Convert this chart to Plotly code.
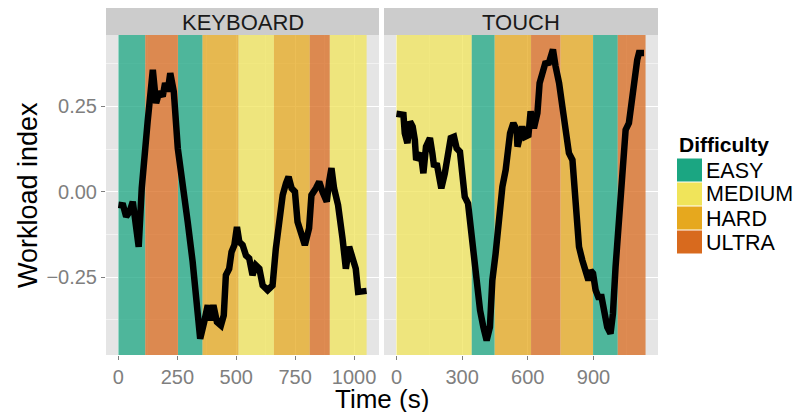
import plotly.graph_objects as go

# ---------------- data ----------------
keyboard_time = [0, 20, 33, 47, 61, 71, 86, 99, 110, 124, 146, 160, 174, 188, 198, 209, 220, 235,
                 252, 273, 294, 315, 329, 339, 347, 364, 379, 390, 403, 418, 435, 447, 456, 470,
                 480, 492, 503, 513, 527, 541, 555, 569, 583, 598, 612, 633, 654, 668, 682, 697,
                 711, 722, 735, 749, 760, 777, 791, 809, 819, 838, 852, 866, 884, 894, 904, 915,
                 932, 951, 965, 979, 993, 1007, 1017, 1031, 1053]
keyboard_workload = [-0.038, -0.040, -0.073, -0.059, -0.029, -0.088, -0.161, 0.010, 0.078, 0.205,
                     0.357, 0.259, 0.293, 0.279, 0.318, 0.293, 0.347, 0.293, 0.127, 0.029, -0.088,
                     -0.205, -0.303, -0.400, -0.430, -0.381, -0.332, -0.376, -0.332, -0.381, -0.391,
                     -0.362, -0.244, -0.225, -0.176, -0.156, -0.103, -0.147, -0.156, -0.186, -0.195,
                     -0.244, -0.215, -0.225, -0.274, -0.288, -0.274, -0.166, -0.078, -0.010, 0.025,
                     0.044, 0.010, 0.000, -0.088, -0.127, -0.156, -0.107, -0.010, 0.010, 0.029,
                     0.000, -0.029, 0.029, 0.069, 0.010, -0.039, -0.137, -0.225, -0.161, -0.195,
                     -0.225, -0.293, -0.290, -0.290]

touch_time = [0, 32, 38, 50, 62, 74, 84, 90, 111, 123, 135, 153, 164, 172, 184, 195, 205, 221, 233,
              248, 263, 275, 290, 306, 312, 327, 339, 354, 370, 382, 397, 412, 427, 438, 453, 469,
              484, 499, 507, 519, 534, 549, 553, 560, 575, 587, 603, 613, 628, 644, 654, 667, 682,
              694, 705, 715, 727, 743, 758, 773, 788, 804, 811, 822, 834, 849, 864, 877, 887, 898,
              910, 922, 937, 948, 963, 978, 989, 1001, 1014, 1024, 1035, 1047, 1062, 1074, 1085,
              1100, 1108, 1131]
touch_workload = [0.228, 0.225, 0.171, 0.142, 0.205, 0.191, 0.152, 0.093, 0.113, 0.054, 0.132,
                  0.157, 0.113, 0.073, 0.083, 0.044, 0.010, 0.054, 0.103, 0.157, 0.161, 0.127,
                  0.117, 0.034, -0.015, -0.034, -0.112, -0.200, -0.288, -0.347, -0.396, -0.435,
                  -0.396, -0.259, -0.181, -0.063, 0.015, 0.064, 0.132, 0.171, 0.201, 0.181, 0.132,
                  0.152, 0.191, 0.161, 0.166, 0.235, 0.186, 0.230, 0.318, 0.347, 0.381, 0.372,
                  0.406, 0.416, 0.367, 0.318, 0.249, 0.171, 0.113, 0.093, 0.025, -0.063, -0.161,
                  -0.200, -0.230, -0.259, -0.230, -0.239, -0.288, -0.308, -0.308, -0.357, -0.396,
                  -0.415, -0.357, -0.220, -0.103, 0.005, 0.103, 0.181, 0.201, 0.269, 0.328, 0.386,
                  0.406, 0.406]

keyboard_band_start = [0, 114, 253, 357, 510, 660, 812, 897]
keyboard_band_end = [114, 253, 357, 510, 660, 812, 897, 1053]
keyboard_band_level = ["EASY", "ULTRA", "EASY", "HARD", "MEDIUM", "HARD", "ULTRA", "MEDIUM"]

touch_band_start = [0, 344, 449, 615, 750, 898, 1011]
touch_band_end = [344, 449, 615, 750, 898, 1011, 1138]
touch_band_level = ["MEDIUM", "EASY", "HARD", "ULTRA", "HARD", "EASY", "ULTRA"]

difficulty_levels = ["EASY", "MEDIUM", "HARD", "ULTRA"]
difficulty_colors = ["#1BA682", "#F0E45A", "#E6A81E", "#D86A1E"]

panel_names = ["KEYBOARD", "TOUCH"]
keyboard_xticks = [0, 250, 500, 750, 1000]
touch_xticks = [0, 300, 600, 900]
y_ticks = [-0.25, 0.0, 0.25]
y_ticklabels = ["\u22120.25", "0.00", "0.25"]

# ---------------- helpers ----------------
W, H = 795, 412
FONT = "Liberation Sans, Arial, Helvetica, sans-serif"
TICK_GREY = "#7F7F7F"
color_of = dict(zip(difficulty_levels, difficulty_colors))


def px_x(p):
    return p / W


def px_y(p):
    return 1 - p / H


def expand(lo, hi, f=0.05):
    d = (hi - lo) * f
    return [lo - d, hi + d]


kb_range = expand(min(keyboard_time + keyboard_band_start), max(keyboard_time + keyboard_band_end))
tc_range = expand(min(touch_time + touch_band_start), max(touch_time + touch_band_end))
y_range = expand(min(keyboard_workload + touch_workload), max(keyboard_workload + touch_workload))


def minor_between(ticks, rng):
    step = ticks[1] - ticks[0]
    vals = []
    v = ticks[0] - step / 2
    while v < rng[1]:
        if v > rng[0]:
            vals.append(v)
        v += step
    return vals


fig = go.Figure()
fig.add_trace(go.Scatter(x=keyboard_time, y=keyboard_workload, xaxis="x", yaxis="y",
                         mode="lines", line=dict(color="black", width=6.5),
                         showlegend=False, hoverinfo="skip"))
fig.add_trace(go.Scatter(x=touch_time, y=touch_workload, xaxis="x2", yaxis="y2",
                         mode="lines", line=dict(color="black", width=6.5),
                         showlegend=False, hoverinfo="skip"))

shapes = []
# difficulty bands span the whole y range of each panel
for xref, yref, s_list, e_list, lv_list in [
    ("x", "y", keyboard_band_start, keyboard_band_end, keyboard_band_level),
    ("x2", "y2", touch_band_start, touch_band_end, touch_band_level),
]:
    for s, e, lv in zip(s_list, e_list, lv_list):
        shapes.append(dict(type="rect", xref=xref, yref=yref, x0=s, x1=e,
                           y0=y_range[0], y1=y_range[1],
                           fillcolor=color_of[lv], opacity=0.75, line=dict(width=0),
                           layer="between"))

# facet strips
strip_top, strip_bot = 8, 35
annotations = []
strip_bounds = [(106, 379), (384, 658)]
for (l, r), name in zip(strip_bounds, panel_names):
    shapes.append(dict(type="rect", xref="paper", yref="paper", x0=px_x(l), x1=px_x(r),
                       y0=px_y(strip_bot), y1=px_y(strip_top), fillcolor="#CCCCCC",
                       line=dict(width=0)))
    annotations.append(dict(text=name, xref="paper", yref="paper", x=px_x((l + r) / 2), y=px_y(22.5),
                            xanchor="center", yanchor="middle", showarrow=False,
                            font=dict(family=FONT, size=22, color="#1A1A1A")))

# axis titles
annotations.append(dict(text="Time (s)", xref="paper", yref="paper", x=px_x(382), y=px_y(398.5),
                        xanchor="center", yanchor="middle", showarrow=False,
                        font=dict(family=FONT, size=26, color="black")))
annotations.append(dict(text="Workload index", xref="paper", yref="paper", x=px_x(28), y=px_y(195),
                        xanchor="center", yanchor="middle", showarrow=False, textangle=-90,
                        font=dict(family=FONT, size=27, color="black")))

# legend (drawn manually)
annotations.append(dict(text="<b>Difficulty</b>", xref="paper", yref="paper", x=px_x(677), y=px_y(145),
                        xanchor="left", yanchor="middle", showarrow=False,
                        font=dict(family=FONT, size=21, color="black")))
key_top = 158
key_h = 24
for i, (lv, col) in enumerate(zip(difficulty_levels, difficulty_colors)):
    y0 = key_top + i * key_h
    shapes.append(dict(type="rect", xref="paper", yref="paper", x0=px_x(677), x1=px_x(702),
                       y0=px_y(y0 + key_h - 0.5), y1=px_y(y0 + 0.5), fillcolor=col,
                       line=dict(width=0)))
    annotations.append(dict(text=lv, xref="paper", yref="paper", x=px_x(704), y=px_y(y0 + key_h / 2 + 0.5),
                            xanchor="left", yanchor="middle", showarrow=False,
                            font=dict(family=FONT, size=21.5, color="black")))

common_x = dict(ticks="outside", ticklen=4, tickcolor=TICK_GREY, tickwidth=1,
                tickfont=dict(family=FONT, size=20, color=TICK_GREY),
                showgrid=True, gridcolor="white", gridwidth=1.2, zeroline=False,
                showline=False, fixedrange=True, automargin=False)

fig.update_layout(
    width=W, height=H, margin=dict(l=0, r=0, t=0, b=0, autoexpand=False),
    paper_bgcolor="white", plot_bgcolor="#E5E5E5", showlegend=False,
    xaxis=dict(domain=[px_x(106), px_x(379)], range=kb_range, anchor="y",
               tickvals=keyboard_xticks, ticklabelstandoff=0,
               minor=dict(tickvals=minor_between(keyboard_xticks, kb_range), showgrid=True,
                          gridcolor="#F2F2F2", gridwidth=0.6, ticks=""),
               **common_x),
    xaxis2=dict(domain=[px_x(384), px_x(658)], range=tc_range, anchor="y2",
                tickvals=touch_xticks, ticklabelstandoff=0,
                minor=dict(tickvals=minor_between(touch_xticks, tc_range), showgrid=True,
                           gridcolor="#F2F2F2", gridwidth=0.6, ticks=""),
                **common_x),
    yaxis=dict(domain=[1 - 355 / H, 1 - 35 / H], range=y_range, anchor="x",
               tickvals=y_ticks, ticktext=y_ticklabels,
               minor=dict(tickvals=minor_between(y_ticks, y_range), showgrid=True,
                          gridcolor="#F2F2F2", gridwidth=0.6, ticks=""),
               **common_x),
    yaxis2=dict(domain=[1 - 355 / H, 1 - 35 / H], range=y_range, anchor="x2",
                tickvals=y_ticks, showticklabels=False, ticks="",
                minor=dict(tickvals=minor_between(y_ticks, y_range), showgrid=True,
                           gridcolor="#F2F2F2", gridwidth=0.6, ticks=""),
                showgrid=True, gridcolor="white", gridwidth=1.2, zeroline=False,
                showline=False, fixedrange=True),
    shapes=shapes, annotations=annotations,
)

fig.write_html("out.html", config={"displayModeBar": False},
               post_script="document.body.style.margin='0px';document.body.style.overflow='hidden';")
